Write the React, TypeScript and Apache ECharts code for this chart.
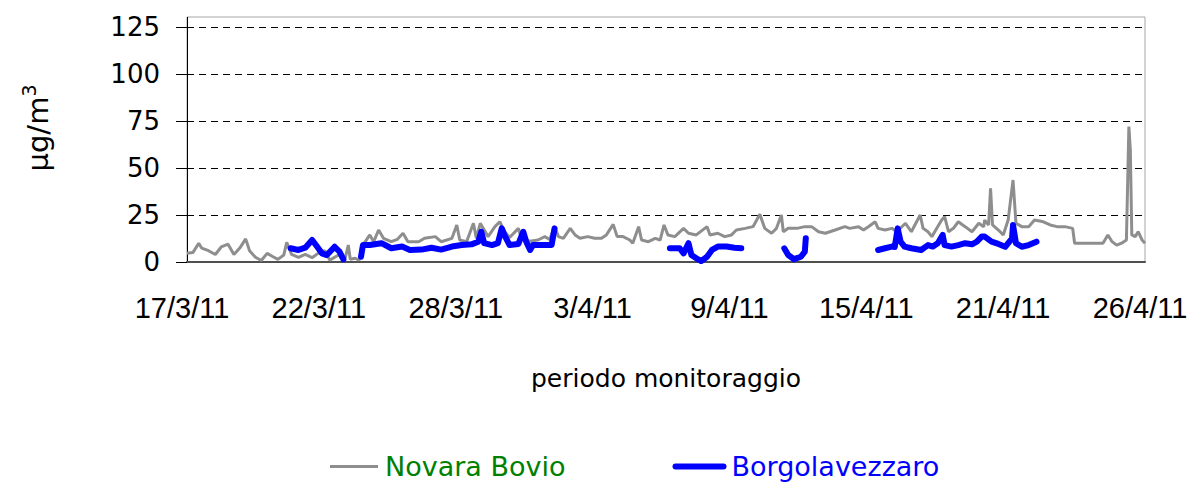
import React, { useEffect, useRef } from "react";
import * as echarts from "echarts";

// x values are hours since 17/3/11 00:00 (hourly monitoring), y values in µg/m3
const TICK_LABELS = ["17/3/11", "22/3/11", "28/3/11", "3/4/11", "9/4/11", "15/4/11", "21/4/11", "26/4/11"];
const HOURS_PER_LABEL = 140;
const Y_TICKS = [0, 25, 50, 75, 100, 125];

const novaraBovio: [number, number][] = [
  [0, 4.6], [6, 5], [12, 10], [15, 7.4], [22, 6], [29, 4], [35, 8], [42, 9.5], [48, 4], [54, 7.4],
  [60, 12.3], [64, 6], [70, 2.5], [76, 0.8], [82, 4.6], [88, 2.8], [93, 1.4], [99, 3.7], [102, 10.5],
  [107, 4], [114, 2.5], [121, 4], [128, 2.3], [134, 4.6], [141, 6], [146, 1], [155, 3.7], [162, 2.3],
  [165, 9], [167, 1.5], [172, 2], [176, 1], [180, 9], [187, 14.4], [191, 10.8], [196, 17], [201, 12.6],
  [209, 10.8], [215, 12], [221, 15.3], [226, 10.8], [237, 10.8], [243, 12.6], [254, 13.5], [260, 10.8],
  [271, 12.6], [276, 19.7], [279, 11.7], [286, 10.8], [293, 20.6], [296, 12.6], [300, 20.6], [308, 13.5],
  [315, 18.8], [320, 21.4], [325, 16.1], [330, 13], [339, 17.9], [342, 12.6], [351, 11], [359, 11.7],
  [366, 13.5], [371, 12], [376, 18.8], [380, 13.5], [385, 12.6], [392, 17.9], [397, 14.4], [402, 12.6],
  [410, 13.5], [417, 12.6], [424, 12.6], [429, 14.4], [436, 20], [440, 13.5], [446, 13.5], [453, 11.7],
  [456, 10], [462, 18.8], [465, 11.7], [472, 10.8], [479, 12.6], [484, 11.7], [488, 19.7], [492, 14.4],
  [499, 13.5], [508, 17.9], [513, 15.3], [521, 14.4], [532, 18.8], [535, 14.4], [543, 15.3], [550, 13.5],
  [557, 14.4], [562, 17], [571, 17.9], [579, 18.8], [586, 25.4], [591, 17.9], [598, 15.3], [603, 17.9],
  [608, 25], [610, 16.1], [615, 17.9], [624, 17.9], [632, 18.8], [639, 18.8], [646, 16.1], [653, 15.3],
  [663, 17], [673, 18.8], [678, 17.9], [687, 18.8], [692, 17], [697, 18.8], [704, 21.4], [707, 17.9],
  [714, 17], [721, 17.9], [726, 16.1], [735, 20.6], [741, 16.1], [750, 25], [753, 17.9], [758, 16.1],
  [762, 13.5], [767, 17.9], [772, 22.3], [775, 24.1], [779, 16.1], [784, 17.9], [789, 21.4], [796, 18.8],
  [803, 16.1], [810, 20.6], [815, 18.8], [816, 22.3], [820, 19.7], [822, 39.2], [824, 19.7], [830, 17],
  [835, 14.4], [840, 22.3], [845, 43.6], [848, 20.6], [854, 18.8], [861, 18.8], [867, 22.3], [876, 21.4],
  [883, 19.7], [890, 18.8], [898, 18.8], [906, 17.9], [908, 10], [919, 10], [929, 10], [937, 10],
  [942, 14.4], [946, 11], [951, 9], [956, 10], [961, 11.7], [963.5, 72], [965, 59.6], [966.5, 14.4],
  [970, 13.5], [973, 16.1], [977, 11.7], [980, 10],
];

const borgoSeg1: [number, number][] = [
  [106, 7.3], [114, 6.4], [121, 7.6], [128, 11.7], [133, 8.2], [138, 4.6], [143, 3.7], [151, 8.1],
  [156, 5.5], [160, 1.4],
];
const borgoSeg2: [number, number][] = [
  [178, 2.8], [180, 9], [187, 9], [199, 10], [209, 7.3], [220, 8.2], [228, 6.4], [240, 6.6], [250, 7.6],
  [260, 6.6], [271, 8.2], [281, 9], [291, 9.4], [298, 10.8], [301, 16.1], [304, 10], [312, 9], [318, 10],
  [322, 17.9], [325, 14], [330, 9], [339, 9.6], [344, 16.1], [347, 10.8], [351, 6.4], [354, 9], [363, 9],
  [373, 9], [376, 17.9],
];
const borgoSeg3: [number, number][] = [
  [494, 7.3], [504, 7.3], [508, 4.6], [513, 10], [516, 3.7], [521, 2], [526, 0.5], [532, 2.8], [537, 6.4],
  [543, 8.2], [552, 8.2], [560, 7.6], [567, 7.3],
];
const borgoSeg4: [number, number][] = [
  [611, 7.3], [615, 3.7], [621, 1.5], [628, 2.8], [632, 5.5], [633, 12.6],
];
const borgoSeg5: [number, number][] = [
  [707, 6.4], [714, 7.3], [721, 8.2], [724, 8], [727, 17.9], [730, 10.8], [734, 8.2], [741, 7.3],
  [751, 6.4], [758, 9], [763, 8.2], [768, 10], [773, 14.4], [775, 9], [782, 8.2], [789, 9], [796, 10],
  [803, 9.4], [808, 10.8], [813, 13.5], [816, 13.5], [823, 10.8], [830, 9.6], [837, 8.1], [844, 12.6],
  [845, 19.7], [848, 10], [854, 8.1], [861, 9], [869, 10.8],
];

const FONT = "'DejaVu Sans', 'Noto Sans', sans-serif";
const LABEL_FONT = "'Liberation Sans', Arial, sans-serif";

const GRAY = "#8e8e8e";
const BLUE = "#0000ff";

export default function App() {
  const ref = useRef<HTMLDivElement>(null);
  useEffect(() => {
    if (!ref.current) return;
    const chart = echarts.init(ref.current, null, { renderer: "svg" });
    const borgo: any[] = [];
    [borgoSeg1, borgoSeg2, borgoSeg3, borgoSeg4, borgoSeg5].forEach((seg, i) => {
      if (i > 0) borgo.push([seg[0][0] - 1, "-"]);
      seg.forEach((p) => borgo.push(p));
    });
    const maxHour = HOURS_PER_LABEL * (TICK_LABELS.length - 1);
    chart.setOption({
      animation: false,
      backgroundColor: "#ffffff",
      grid: { left: 187, right: 49, top: 27, bottom: 221, containLabel: false },
      graphic: [
        {
          type: "rect",
          shape: { x: 187, y: 17, width: 958, height: 245 },
          style: { fill: "none", stroke: "#a6a6a6", lineWidth: 1 },
          silent: true,
          z: 0,
        },
        {
          type: "line",
          shape: { x1: 187.5, y1: 17, x2: 187.5, y2: 28 },
          style: { stroke: "#000", lineWidth: 1 },
          silent: true,
        },
        {
          type: "text",
          x: 38,
          y: 128,
          rotation: Math.PI / 2,
          style: {
            text: "{a|µg/m}{b|3}",
            align: "center",
            verticalAlign: "middle",
            fill: "#000",
            rich: {
              a: { fontSize: 29, fontFamily: FONT, fill: "#000", lineHeight: 38 },
              b: { fontSize: 19, fontFamily: FONT, fill: "#000", verticalAlign: "top", lineHeight: 19 },
            },
          },
          silent: true,
        },
      ],
      xAxis: {
        type: "value",
        min: 0,
        max: maxHour,
        interval: HOURS_PER_LABEL,
        name: "periodo monitoraggio",
        nameLocation: "middle",
        nameGap: 104,
        nameTextStyle: { fontSize: 25, fontFamily: FONT, color: "#000" },
        axisLine: { show: true, onZero: false, lineStyle: { color: "#505050", width: 2 } },
        axisTick: { show: false },
        splitLine: { show: false },
        axisLabel: {
          margin: 31,
          fontSize: 29,
          fontFamily: LABEL_FONT,
          color: "#000",
          padding: [0, 10, 0, 0],
          showMinLabel: true,
          showMaxLabel: true,
          formatter: (v: number) => TICK_LABELS[Math.round(v / HOURS_PER_LABEL)] ?? "",
        },
      },
      yAxis: {
        type: "value",
        min: Y_TICKS[0],
        max: Y_TICKS[Y_TICKS.length - 1],
        interval: Y_TICKS[1] - Y_TICKS[0],
        axisLine: { show: true, lineStyle: { color: "#000", width: 1 } },
        axisTick: { show: true, length: 11, inside: false, lineStyle: { color: "#000" } },
        axisLabel: { margin: 27, fontSize: 26, fontFamily: FONT, color: "#000" },
        splitLine: { show: true, lineStyle: { color: "#000", type: [7, 5], width: 1 } },
      },
      legend: {
        left: 326,
        top: 453,
        padding: 0,
        itemGap: 107,
        itemWidth: 54,
        itemHeight: 12,
        textStyle: { fontSize: 27, fontFamily: FONT },
        data: [
          {
            name: "Novara Bovio",
            icon: "path://M0,0M54,12M4,4.5L52,4.5L52,7.5L4,7.5Z",
            textStyle: { color: "#008000" },
          },
          {
            name: "Borgolavezzaro",
            icon: "path://M0,0M54,12M3,3L51,3A3,3,0,0,1,51,9L3,9A3,3,0,0,1,3,3Z",
            textStyle: { color: BLUE },
          },
        ],
      },
      series: [
        {
          name: "Novara Bovio",
          type: "line",
          data: novaraBovio,
          symbol: "none",
          showSymbol: false,
          lineStyle: { color: GRAY, width: 3 },
          itemStyle: { color: GRAY },
          z: 2,
        },
        {
          name: "Borgolavezzaro",
          type: "line",
          data: borgo,
          symbol: "none",
          showSymbol: false,
          connectNulls: false,
          lineStyle: { color: BLUE, width: 6, cap: "round", join: "round" },
          itemStyle: { color: BLUE },
          z: 3,
        },
      ],
    });
    return () => chart.dispose();
  }, []);
  return (
    <div
      ref={ref}
      style={{ position: "fixed", left: 0, top: 0, width: 1194, height: 483, background: "#fff" }}
    />
  );
}
